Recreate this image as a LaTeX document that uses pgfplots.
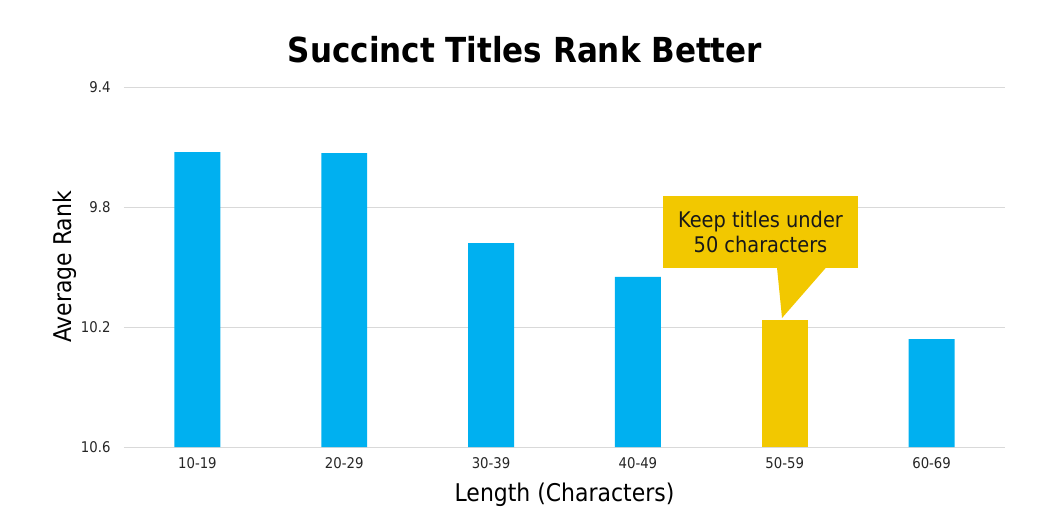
\documentclass[border=0pt]{standalone}
\usepackage{pgfplots}
\pgfplotsset{compat=1.18}
\usepackage{fontspec}
\setmainfont{DejaVu Sans Condensed}
\definecolor{barblue}{HTML}{00B0F0}
\definecolor{baryellow}{HTML}{F2C800}
\definecolor{gridgray}{HTML}{D9D9D9}
\begin{document}
\begin{tikzpicture}
\path[use as bounding box] (-124bp,-84bp) rectangle (924bp,447bp);
\begin{axis}[
  at={(0,0)}, anchor=south west,
  scale only axis, width=881bp, height=360bp,
  xmin=-0.5, xmax=5.5,
  y coord trafo/.code={\pgfmathparse{10.6-#1}},
  y coord inv trafo/.code={\pgfmathparse{10.6-#1}},
  ymin=10.6, ymax=9.4,
  ytick={9.4,9.8,10.2,10.6},
  yticklabels={9.4,9.8,10.2,10.6},
  xtick={0,1,2,3,4,5},
  xticklabels={10-19,20-29,30-39,40-49,50-59,60-69},
  /pgf/number format/assume math mode=true,
  ymajorgrids,
  grid style={gridgray, line width=0.9bp},
  axis line style={draw=none},
  major tick length=0pt,
  tick label style={font=\fontsize{14.8}{17}\selectfont, text=black!85},
  xticklabel style={yshift=-7bp},
  yticklabel style={xshift=-10bp},
  xlabel={Length (Characters)},
  ylabel={Average Rank},
  every axis x label/.style={at={(axis description cs:0.5,0)}, yshift=-48bp, anchor=center, font=\fontsize{24.5}{29}\selectfont},
  every axis y label/.style={at={(axis description cs:0,0.5)}, xshift=-59bp, rotate=90, anchor=center, font=\fontsize{24.5}{29}\selectfont},
  clip=false,
]
\addplot[ybar, bar width=0.313, bar shift=0pt, fill=barblue, draw=none]
  coordinates {(0,9.617) (1,9.62) (2,9.92) (3,10.033) (5,10.24)};
\addplot[ybar, bar width=0.313, bar shift=0pt, fill=baryellow, draw=none]
  coordinates {(4,10.177)};
\fill[baryellow] (rel axis cs:0.6118,0.6972) rectangle (rel axis cs:0.8331,0.4972);
\fill[baryellow] (rel axis cs:0.7412,0.4982) -- (rel axis cs:0.7469,0.3583) -- (rel axis cs:0.7968,0.4982) -- cycle;
\node[align=center, font=\fontsize{21.6}{25}\selectfont, text=black!90] at (rel axis cs:0.7225,0.5972) {Keep titles under\\50 characters};
\end{axis}
\node[font=\fontsize{34.6}{40}\selectfont\bfseries] at (401bp,397bp) {Succinct Titles Rank Better};
\end{tikzpicture}
\end{document}
